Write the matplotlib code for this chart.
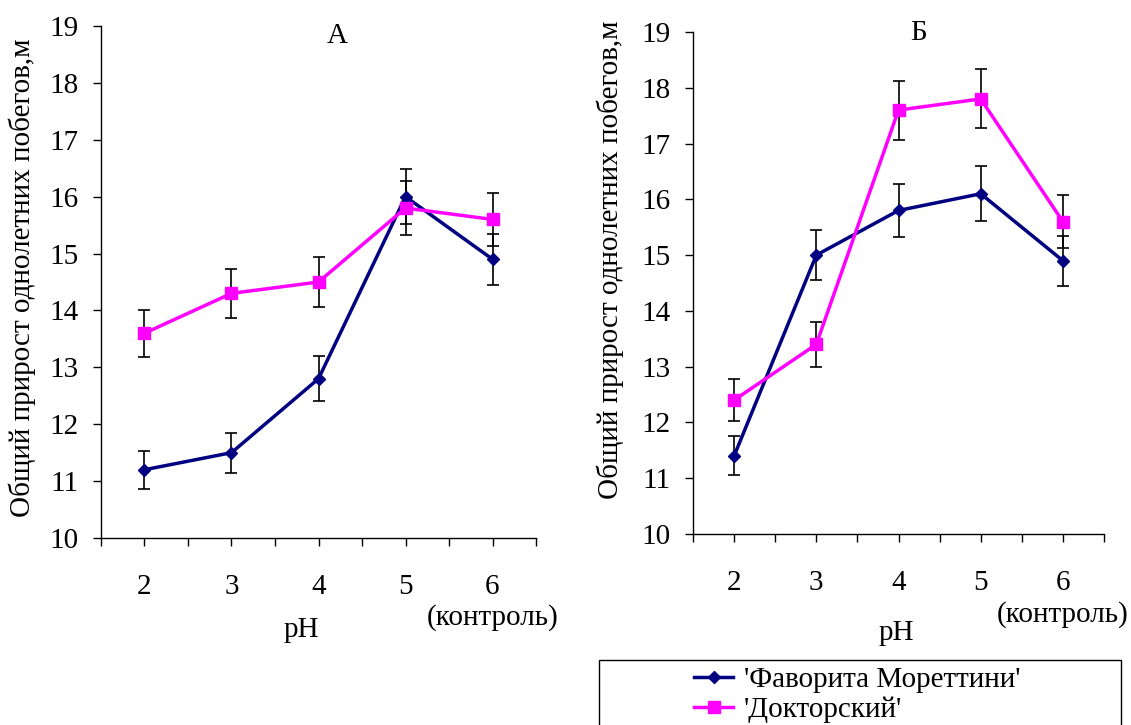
import numpy as np
import matplotlib
matplotlib.use("Agg")
import matplotlib.pyplot as plt
from matplotlib.patches import Rectangle

plt.rcParams['font.family'] = ['Liberation Serif', 'DejaVu Serif']
plt.rcParams['font.size'] = 21

ph = [2, 3, 4, 5, 6]
names = ["'Фаворита Мореттини'", "'Докторский'"]
ylab = 'Общий прирост однолетних побегов,м'

# panel A
fav_a = [11.2, 11.5, 12.8, 16.0, 14.9]
fav_a_err = [0.33, 0.35, 0.40, 0.48, 0.45]
dok_a = [13.6, 14.3, 14.5, 15.8, 15.6]
dok_a_err = [0.41, 0.43, 0.44, 0.47, 0.47]

# panel Б
fav_b = [11.4, 15.0, 15.8, 16.1, 14.9]
fav_b_err = [0.35, 0.45, 0.48, 0.49, 0.45]
dok_b = [12.4, 13.4, 17.6, 17.8, 15.6]
dok_b_err = [0.37, 0.40, 0.53, 0.53, 0.47]

W, H = 1131, 725
NAVY = '#000080'
MAGENTA = '#FF00FF'


def px_axes(fig, left, top, right, bottom):
    return fig.add_axes([left / W, 1 - bottom / H, (right - left) / W, (bottom - top) / H])


def draw_panel(ax, fav, fav_err, dok, dok_err, title, title_x, title_y):
    h1 = ax.errorbar(ph, fav, yerr=fav_err, color=NAVY, lw=2.5, marker='D', ms=6.5,
                     ecolor='black', elinewidth=1.2, capsize=4.5, capthick=1.2)
    h2 = ax.errorbar(ph, dok, yerr=dok_err, color=MAGENTA, lw=2.5, marker='s', ms=9,
                     ecolor='black', elinewidth=1.2, capsize=4.5, capthick=1.2)
    ax.set_xlim(1.5, 6.5)
    ax.set_ylim(10, 19)
    ax.set_yticks(range(10, 20))
    xt = np.arange(1.5, 6.6, 0.5)
    ax.set_xticks(xt)
    ax.set_xticklabels([str(int(v)) if v == int(v) else '' for v in xt])
    for s in ['top', 'right']:
        ax.spines[s].set_visible(False)
    for s in ['left', 'bottom']:
        ax.spines[s].set_linewidth(1.0)
    ax.tick_params(axis='both', direction='out', length=6, width=1.0)
    ax.tick_params(axis='x', pad=20)
    ax.tick_params(axis='y', pad=10)
    ax.text(title_x, title_y, title, transform=ax.transAxes, ha='center', va='center')
    return h1[0], h2[0]


fig = plt.figure(figsize=(W / 100, H / 100), dpi=100)

ax1 = px_axes(fig, 101, 26, 536, 538)
h1, h2 = draw_panel(ax1, fav_a, fav_a_err, dok_a, dok_a_err, 'А', 0.544, 0.98)
ax1.text(6, -0.155, '(контроль)', transform=ax1.get_xaxis_transform(), ha='center', va='center')
ax1.text(0.461, -0.18, 'pH', transform=ax1.transAxes, ha='center', va='center')
fig.text(22 / W, 1 - 278 / H, ylab, rotation=90, ha='center', va='center')

ax2 = px_axes(fig, 693, 32, 1104, 534)
draw_panel(ax2, fav_b, fav_b_err, dok_b, dok_b_err, 'Б', 0.55, 0.998)
ax2.text(6, -0.16, '(контроль)', transform=ax2.get_xaxis_transform(), ha='center', va='center')
ax2.text(0.494, -0.198, 'pH', transform=ax2.transAxes, ha='center', va='center')
fig.text(610 / W, 1 - 260 / H, ylab, rotation=90, ha='center', va='center')

# legend box running off the bottom edge
fig.patches.append(Rectangle((599 / W, -0.05), (1121 - 599) / W, (725 - 660) / H + 0.05,
                             transform=fig.transFigure, fill=False, ec='black', lw=1.0))
fig.legend([h1, h2], names, loc='upper left', bbox_to_anchor=(694 / W, 1 - 667 / H),
           frameon=False, handlelength=1.35, handletextpad=0.35, labelspacing=0.12,
           borderpad=0, borderaxespad=0)

fig.savefig('out.png', dpi=100)
